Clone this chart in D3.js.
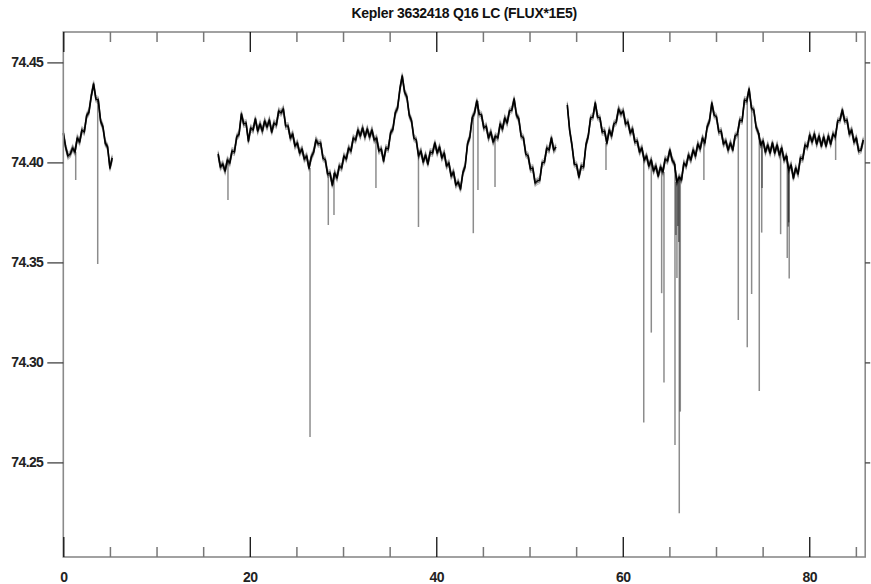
<!DOCTYPE html>
<html>
<head>
<meta charset="utf-8">
<script src="https://cdn.jsdelivr.net/npm/d3@7"></script>
<style>
  body { margin: 0; background: #fff; }
  svg { display: block; }
  text { font-family: "Liberation Sans", Arial, Helvetica, sans-serif; }
</style>
</head>
<body>
<svg id="chart" width="871" height="584"></svg>
<script>
// Kepler long-cadence light curve, binned to 0.25 d, split at the data gaps.
const chartTitle = "Kepler 3632418 Q16 LC (FLUX*1E5)";
const binWidth = 0.25;                       // days per bin
const segmentStart = [0, 16.6, 54.05];       // first bin time of each segment (days)

const fluxA = [74.4147, 74.4077, 74.4032, 74.4042, 74.4072, 74.4052, 74.4122, 74.4102, 74.4162, 74.4152,
  74.4232, 74.4252, 74.4332, 74.4392, 74.4317, 74.4312, 74.4207, 74.4177, 74.4097, 74.4077, 74.3972, 74.4022];

const fluxB = [74.4042, 74.3977, 74.3992, 74.3957, 74.4012, 74.3997, 74.4057, 74.4052, 74.4127, 74.4142,
  74.4242, 74.4192, 74.4197, 74.4107, 74.4172, 74.4162, 74.4217, 74.4157, 74.4192, 74.4157,
  74.4207, 74.4177, 74.4212, 74.4152, 74.4197, 74.4187, 74.4257, 74.4247, 74.4267, 74.4182,
  74.4182, 74.4122, 74.4142, 74.4082, 74.4097, 74.4047, 74.4067, 74.4017, 74.4032, 74.3972,
  74.4027, 74.4052, 74.4112, 74.4092, 74.4097, 74.4022, 74.4012, 74.3942, 74.3947, 74.3887,
  74.3947, 74.3922, 74.3982, 74.3972, 74.4032, 74.4017, 74.4072, 74.4057, 74.4122, 74.4112,
  74.4162, 74.4132, 74.4172, 74.4127, 74.4167, 74.4127, 74.4162, 74.4112, 74.4122, 74.4057,
  74.4067, 74.4007, 74.4072, 74.4067, 74.4147, 74.4167, 74.4247, 74.4272, 74.4367, 74.4432,
  74.4352, 74.4327, 74.4237, 74.4207, 74.4122, 74.4112, 74.4032, 74.4057, 74.4002, 74.4037,
  74.3992, 74.4052, 74.4047, 74.4097, 74.4047, 74.4077, 74.4022, 74.4047, 74.3982, 74.3997,
  74.3932, 74.3952, 74.3887, 74.3902, 74.3867, 74.3947, 74.3982, 74.4092, 74.4127, 74.4222,
  74.4247, 74.4307, 74.4242, 74.4237, 74.4172, 74.4182, 74.4122, 74.4152, 74.4102, 74.4132,
  74.4122, 74.4192, 74.4167, 74.4222, 74.4197, 74.4257, 74.4262, 74.4317, 74.4237, 74.4217,
  74.4132, 74.4122, 74.4042, 74.4032, 74.3967, 74.3972, 74.3897, 74.3907, 74.3912, 74.3997,
  74.4002, 74.4072, 74.4062, 74.4122, 74.4062, 74.4077];

const fluxC = [74.4287, 74.4162, 74.4087, 74.3992, 74.3987, 74.3927, 74.3982, 74.3977, 74.4087, 74.4132,
  74.4222, 74.4227, 74.4297, 74.4227, 74.4222, 74.4152, 74.4157, 74.4097, 74.4162, 74.4132,
  74.4192, 74.4202, 74.4267, 74.4242, 74.4257, 74.4192, 74.4202, 74.4147, 74.4167, 74.4102,
  74.4107, 74.4052, 74.4072, 74.4012, 74.4032, 74.3982, 74.4012, 74.3957, 74.3982, 74.3932,
  74.3977, 74.3952, 74.4017, 74.4007, 74.4062, 74.4012, 74.3992, 74.3902, 74.3927, 74.3912,
  74.3997, 74.3982, 74.4037, 74.4012, 74.4062, 74.4032, 74.4092, 74.4067, 74.4122, 74.4097,
  74.4177, 74.4207, 74.4297, 74.4237, 74.4227, 74.4152, 74.4157, 74.4092, 74.4107, 74.4062,
  74.4097, 74.4062, 74.4132, 74.4142, 74.4212, 74.4207, 74.4312, 74.4307, 74.4367, 74.4272,
  74.4262, 74.4177, 74.4147, 74.4087, 74.4107, 74.4052, 74.4087, 74.4047, 74.4097, 74.4047,
  74.4087, 74.4037, 74.4072, 74.4012, 74.4032, 74.3962, 74.3987, 74.3922, 74.3972, 74.3942,
  74.4022, 74.4017, 74.4087, 74.4077, 74.4137, 74.4102, 74.4142, 74.4092, 74.4132, 74.4082,
  74.4127, 74.4082, 74.4132, 74.4092, 74.4142, 74.4127, 74.4207, 74.4212, 74.4262, 74.4207,
  74.4212, 74.4142, 74.4162, 74.4102, 74.4122, 74.4057, 74.4062, 74.4112];

// Single-cadence low outliers: time (days) and flux
const dipTime = [1.33, 3.69,
  17.66, 26.46, 28.42, 29.03, 33.53, 38.09, 43.97, 44.47, 46.3,
  58.2, 62.25, 63.06, 64.17, 64.42, 65.6, 65.7, 65.81, 65.9, 66.0, 66.06, 66.17,
  68.7, 72.39, 73.35, 73.82, 74.64, 74.9, 74.95, 76.93, 77.64, 77.75, 77.8, 77.85, 82.83];
const dipFlux = [74.3912, 74.3492,
  74.3812, 74.2627, 74.3687, 74.3737, 74.3872, 74.3677, 74.3646, 74.3862, 74.3877,
  74.3962, 74.2699, 74.3149, 74.3346, 74.2899, 74.2587, 74.3637, 74.3422, 74.3682, 74.3602, 74.2246, 74.2754,
  74.3912, 74.3212, 74.3076, 74.3342, 74.2857, 74.3649, 74.3872, 74.3641, 74.3522, 74.3679, 74.3700, 74.3420, 74.4012];

const xMajorTicks = [0, 20, 40, 60, 80];
const xMinorTicks = [5, 10, 15, 25, 30, 35, 45, 50, 55, 65, 70, 75, 85];
const yTicks = [74.25, 74.30, 74.35, 74.40, 74.45];

const svg = d3.select("#chart");
const x = d3.scaleLinear().domain([0, 86]).range([63.3, 865.2]);
const y = d3.scaleLinear().domain([74.2027, 74.4652]).range([557, 32]);

const segments = [fluxA, fluxB, fluxC].map((flux, s) => ({
  start: segmentStart[s],
  points: flux.map((f, i) => ({ t: segmentStart[s] + i * binWidth, f }))
}));

// Outliers: drawn from the local light-curve level down to the outlier flux
const dipLayer = svg.append("g");
dipTime.forEach((t, k) => {
  const seg = segments.filter(s => t >= s.start).pop();
  const idx = Math.max(0, Math.min(seg.points.length - 1, Math.round((t - seg.start) / binWidth)));
  const base = seg.points[idx].f;
  dipLayer.append("line")
    .attr("x1", x(t)).attr("x2", x(t))
    .attr("y1", y(base)).attr("y2", y(dipFlux[k]))
    .attr("stroke", "#000").attr("stroke-opacity", 0.45).attr("stroke-width", 1.5);
});

// Light curve: faint vertically offset strokes give the point-to-point scatter band,
// the dark core follows the binned values
const line = d3.line().x(d => x(d.t)).y(d => y(d.f));
const curve = svg.append("g");
[-3.4, -1.7, 1.7, 3.4].forEach(dy => {
  curve.append("g").attr("transform", `translate(0,${dy})`)
    .selectAll("path").data(segments).join("path")
    .attr("d", d => line(d.points))
    .attr("fill", "none").attr("stroke", "#000")
    .attr("stroke-opacity", Math.abs(dy) > 3 ? 0.25 : 0.55)
    .attr("stroke-width", 1.1);
});
curve.append("g").selectAll("path").data(segments).join("path")
  .attr("d", d => line(d.points))
  .attr("fill", "none").attr("stroke", "#000").attr("stroke-width", 1.6)
  .attr("stroke-linejoin", "round");

// Frame
svg.append("rect")
  .attr("x", x(0)).attr("y", y.range()[1])
  .attr("width", x(86) - x(0)).attr("height", y.range()[0] - y.range()[1])
  .attr("fill", "none").attr("stroke", "#8a8a8a").attr("stroke-width", 1.6);

function styleAxis(g, color, width) {
  g.select(".domain").remove();
  g.selectAll(".tick line").attr("stroke", color).attr("stroke-width", width);
  g.selectAll("text")
    .attr("fill", "#222").attr("font-size", 14).attr("font-weight", "bold")
    .attr("letter-spacing", "-0.6px");
}

// Bottom axis (ticks point into the plot)
svg.append("g").attr("transform", `translate(0,${y.range()[0]})`)
  .call(d3.axisBottom(x).tickValues(xMajorTicks).tickSize(-20).tickSizeOuter(0).tickPadding(15)
    .tickFormat(d3.format("d")))
  .call(g => styleAxis(g, "#111", 1.3));
svg.append("g").attr("transform", `translate(0,${y.range()[0]})`)
  .call(d3.axisBottom(x).tickValues(xMinorTicks).tickSize(-10).tickSizeOuter(0).tickFormat(""))
  .call(g => styleAxis(g, "#777", 1.5));

// Top axis mirrors the bottom one without labels
svg.append("g").attr("transform", `translate(0,${y.range()[1]})`)
  .call(d3.axisTop(x).tickValues(xMajorTicks).tickSize(-20).tickSizeOuter(0).tickFormat(""))
  .call(g => styleAxis(g, "#111", 1.3));
svg.append("g").attr("transform", `translate(0,${y.range()[1]})`)
  .call(d3.axisTop(x).tickValues(xMinorTicks).tickSize(-10).tickSizeOuter(0).tickFormat(""))
  .call(g => styleAxis(g, "#777", 1.5));

// Left axis with labels, right axis with short outward ticks
svg.append("g").attr("transform", `translate(${x(0)},0)`)
  .call(d3.axisLeft(y).tickValues(yTicks).tickSize(16).tickSizeOuter(0).tickPadding(4)
    .tickFormat(d3.format(".2f")))
  .call(g => styleAxis(g, "#333", 1.2));
svg.append("g").attr("transform", `translate(${x(86)},0)`)
  .call(d3.axisRight(y).tickValues(yTicks).tickSize(5).tickSizeOuter(0).tickFormat(""))
  .call(g => styleAxis(g, "#333", 1.2));

// Title
svg.append("text")
  .attr("x", (x(0) + x(86)) / 2).attr("y", 18)
  .attr("text-anchor", "middle")
  .attr("font-size", 14).attr("font-weight", "bold").attr("fill", "#111")
  .attr("letter-spacing", "-0.3px")
  .text(chartTitle);
</script>
</body>
</html>
